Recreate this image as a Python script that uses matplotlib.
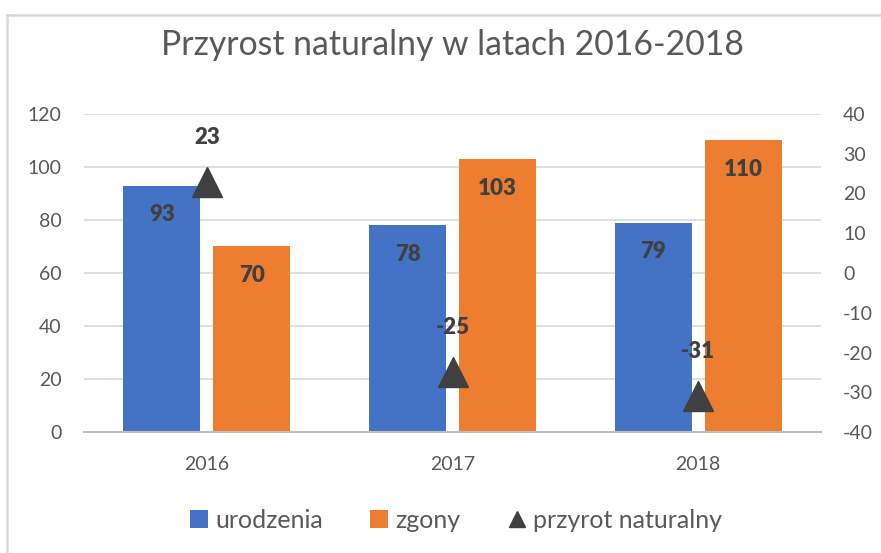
import matplotlib
matplotlib.use("Agg")
import matplotlib.pyplot as plt
from matplotlib.patches import Patch
from matplotlib.lines import Line2D

years = ["2016", "2017", "2018"]
urodzenia = [93, 78, 79]
zgony = [70, 103, 110]
przyrost = [23, -25, -31]
left_ticks = [0, 20, 40, 60, 80, 100, 120]
right_ticks = [-40, -30, -20, -10, 0, 10, 20, 30, 40]

W, H = 881, 553
DPI = 100
plt.rcParams['font.family'] = ['Lato', 'DejaVu Sans']
plt.rcParams['axes.unicode_minus'] = False

BLUE = "#4472C4"
ORANGE = "#ED7D31"
DARK = "#404040"
TXT = "#595959"
GRID = "#D9D9D9"

fig = plt.figure(figsize=(W / DPI, H / DPI), dpi=DPI)
# chart frame: only top and left edges visible
fig.add_artist(Line2D([7 / W, 1], [(H - 15) / H, (H - 15) / H], transform=fig.transFigure,
                      color="#D9D9D9", linewidth=1.8))
fig.add_artist(Line2D([7 / W, 7 / W], [0, (H - 15) / H], transform=fig.transFigure,
                      color="#D9D9D9", linewidth=1.8))

ax = fig.add_axes([84 / W, (H - 432) / H, 737 / W, 318 / H])
ax.set_zorder(1)
ax.patch.set_visible(False)
x = list(range(len(years)))
bw = 0.313
off = 0.183
b1 = ax.bar([i - off for i in x], urodzenia, width=bw, color=BLUE, zorder=2)
b2 = ax.bar([i + off for i in x], zgony, width=bw, color=ORANGE, zorder=2)
ax.set_xlim(-0.5, 2.5)
ax.set_ylim(0, 120)
ax.set_yticks(left_ticks)
ax.set_xticks(x)
ax.set_xticklabels(years)
ax.grid(axis="y", color=GRID, linewidth=1.2, zorder=0)
ax.set_axisbelow(True)
for s in ["top", "right", "left"]:
    ax.spines[s].set_visible(False)
ax.spines["bottom"].set_color("#BFBFBF")
ax.spines["bottom"].set_linewidth(1.5)
ax.tick_params(axis="both", length=0, colors=TXT, labelsize=14)
ax.tick_params(axis="y", pad=16)
ax.tick_params(axis="x", pad=17)

for bars, vals in ((b1, urodzenia), (b2, zgony)):
    for r, v in zip(bars, vals):
        ax.annotate(str(v), (r.get_x() + r.get_width() / 2, v), xytext=(0, -21),
                    textcoords="offset points", ha="center", va="center",
                    fontsize=16, fontweight="heavy", color=DARK, zorder=5)

ax2 = ax.twinx()
ax2.set_ylim(-40, 40)
ax2.set_yticks(right_ticks)
for s in ["top", "right", "left", "bottom"]:
    ax2.spines[s].set_visible(False)
ax2.tick_params(axis="y", length=0, colors=TXT, labelsize=14, pad=16)
ax2.plot(x, przyrost, linestyle="none", marker="^", markersize=22, color=DARK, zorder=4)
for i, v in zip(x, przyrost):
    ax2.annotate(str(v), (i, v), xytext=(0, 32), textcoords="offset points",
                 ha="center", va="center", fontsize=16, fontweight="heavy", color=DARK)

fig.text(452 / W, (H - 45) / H, "Przyrost naturalny w latach 2016-2018", ha="center", va="center",
         fontsize=24.3, color=TXT)

handles = [Patch(facecolor=BLUE), Patch(facecolor=ORANGE),
           Line2D([], [], linestyle="none", marker="^", markersize=12, color=DARK)]
fig.legend(handles, ["urodzenia", "zgony", "przyrot naturalny"], loc="center",
           bbox_to_anchor=(456 / W, (H - 520) / H), ncol=3, frameon=False, fontsize=18,
           labelcolor=TXT, handlelength=0.7, handleheight=0.7, handletextpad=0.3,
           columnspacing=1.9)

fig.savefig("out.png", dpi=DPI, facecolor="white")
